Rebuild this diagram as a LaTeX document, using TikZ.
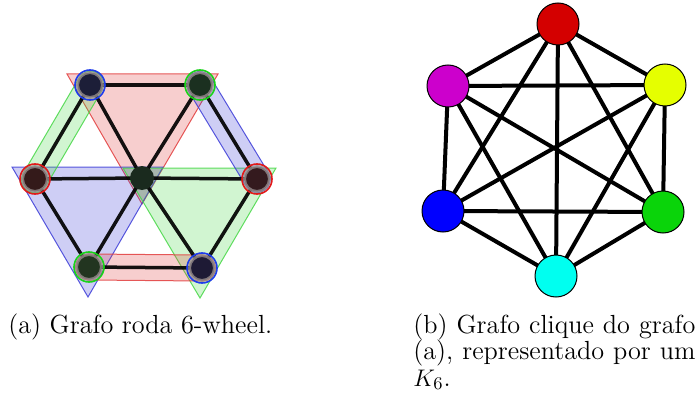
\documentclass[tikz,border=0pt]{standalone}
\usetikzlibrary{calc}
\definecolor{tred}{RGB}{225,60,60}
\definecolor{tblue}{RGB}{60,60,215}
\definecolor{tgreen}{RGB}{70,215,70}
\definecolor{rred}{RGB}{225,25,25}
\definecolor{rblue}{RGB}{30,60,235}
\definecolor{rgreen}{RGB}{25,210,25}
\definecolor{ringgray}{RGB}{150,140,140}
\definecolor{nTL}{RGB}{28,30,56}
\definecolor{nTR}{RGB}{27,48,32}
\definecolor{nR}{RGB}{52,26,30}
\definecolor{nBR}{RGB}{30,26,53}
\definecolor{nBL}{RGB}{34,53,32}
\definecolor{nL}{RGB}{52,26,26}
\definecolor{nC}{RGB}{26,42,30}
\definecolor{kred}{RGB}{212,0,0}
\definecolor{kmag}{RGB}{204,0,204}
\definecolor{kyel}{RGB}{229,255,0}
\definecolor{kblue}{RGB}{0,0,255}
\definecolor{kgreen}{RGB}{10,212,10}
\definecolor{kcyan}{RGB}{0,255,240}
\pgfdeclarelayer{bg}
\pgfdeclarelayer{edges}
\pgfsetlayers{bg,edges,main}
\begin{document}
\begin{tikzpicture}[x=0.5pt,y=-0.5pt,
  font=\fontsize{13.1}{15.5}\selectfont,
  wedge/.style={line width=1.75pt, black, opacity=0.92},
  wnode/.style={circle, inner sep=0pt, minimum size=12.5pt, draw=ringgray, draw opacity=0.8, line width=1.5pt},
  cnode/.style={circle, inner sep=0pt, minimum size=12pt},
  ringc/.style={line width=0.8pt},
  tri/.style={line width=0.5pt, fill opacity=0.25, draw opacity=0.85},
  band/.style={rectangle, rounded corners=6.5pt, minimum height=13pt, inner sep=0pt, line width=0.5pt, fill opacity=0.25, draw opacity=0.85},
  knode/.style={circle, inner sep=0pt, minimum size=21pt, draw=black, line width=0.5pt},
  kedge/.style={line width=2pt, black},
  captext/.style={anchor=base west, inner sep=0pt}]
\useasboundingbox (0,0) rectangle (699,406);

% ---- wheel graph nodes
\node[wnode, fill=nTL] (a1) at (90,85) {};
\node[wnode, fill=nTR] (a2) at (200,85) {};
\node[wnode, fill=nR]  (a3) at (257,179) {};
\node[wnode, fill=nBR] (a4) at (202,268) {};
\node[wnode, fill=nBL] (a5) at (89,267) {};
\node[wnode, fill=nL]  (a6) at (35,179) {};
\node[cnode, fill=nC]  (a0) at (142,178) {};

% colored rings
\draw[ringc, rblue]  (a1.center) circle[radius=7.5pt];
\draw[ringc, rgreen] (a2.center) circle[radius=7.5pt];
\draw[ringc, rred]   (a3.center) circle[radius=7.5pt];
\draw[ringc, rblue]  (a4.center) circle[radius=7.5pt];
\draw[ringc, rgreen] (a5.center) circle[radius=7.5pt];
\draw[ringc, rred]   (a6.center) circle[radius=7.5pt];

% translucent cliques
\begin{pgfonlayer}{bg}
\filldraw[tri, draw=tred, fill=tred] (67,74) -- (218,74) -- (142,204) -- cycle;
\filldraw[tri, draw=tblue, fill=tblue] (12,167) -- (163,167) -- (88,297) -- cycle;
\filldraw[tri, draw=tgreen, fill=tgreen] (123,168) -- (276,168) -- (200,298) -- cycle;
\path (a1.center) -- (a6.center) node[midway, sloped, band, draw=tgreen, fill=tgreen, minimum width=68.5pt] (bandg) {};
\path (a2.center) -- (a3.center) node[midway, sloped, band, draw=tblue, fill=tblue, minimum width=68.5pt] (bandb) {};
\path (a5.center) -- (a4.center) node[midway, sloped, band, draw=tred, fill=tred, minimum width=70pt] (bandr) {};
\end{pgfonlayer}

% wheel edges
\begin{pgfonlayer}{edges}
\foreach \u/\v in {a1/a2, a2/a3, a3/a4, a4/a5, a5/a6, a6/a1, a0/a1, a0/a2, a0/a3, a0/a4, a0/a5, a0/a6}
  \draw[wedge] (\u.center) -- (\v.center);
\end{pgfonlayer}

% ---- K6
\node[knode, fill=kred]   (kr) at (558,24) {};
\node[knode, fill=kmag]   (km) at (448,86) {};
\node[knode, fill=kyel]   (ky) at (665,85) {};
\node[knode, fill=kblue]  (kb) at (443,211) {};
\node[knode, fill=kgreen] (kg) at (663,212) {};
\node[knode, fill=kcyan]  (kc) at (556,276) {};
\begin{pgfonlayer}{edges}
\foreach \u/\v in {kr/km, kr/ky, kr/kb, kr/kg, kr/kc, km/ky, km/kb, km/kg, km/kc, ky/kb, ky/kg, ky/kc, kb/kg, kb/kc, kg/kc}
  \draw[kedge] (\u.center) -- (\v.center);
\end{pgfonlayer}

% ---- captions
\node[captext] (capa) at (8,333) {(a) Grafo roda 6-wheel.};
\node[captext] (capb1) at (413,333) {\hbox to 141pt{(b) Grafo clique do grafo}};
\node[captext] (capb2) at (413,359.5) {\hbox to 141pt{(a), representado por um}};
\node[captext] (capb3) at (413,386) {$K_6$.};
\end{tikzpicture}
\end{document}
